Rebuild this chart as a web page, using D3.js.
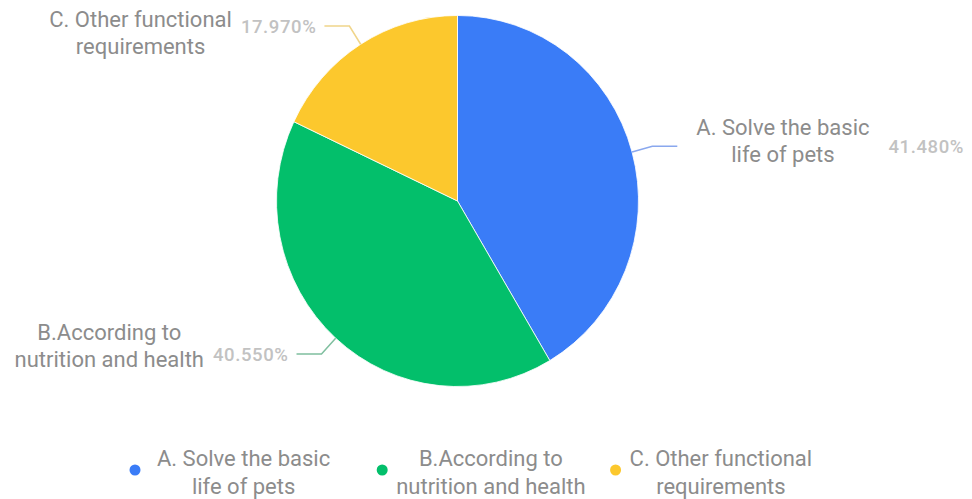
<!DOCTYPE html>
<html>
<head>
<meta charset="utf-8">
<script src="https://cdn.jsdelivr.net/npm/d3@7/dist/d3.min.js"></script>
<style>
  html, body { margin: 0; padding: 0; background: #ffffff; }
  svg { display: block; font-family: Roboto, "Noto Sans", sans-serif; }
</style>
</head>
<body>
<svg id="chart" width="972" height="499"></svg>
<script>
// Survey answers: share of respondents per pet-product requirement
const categories = [
  ["A. Solve the basic", "life of pets"],
  ["B.According to", "nutrition and health"],
  ["C. Other functional", "requirements"]
];
const shares = [41.48, 40.55, 17.97];
const percentLabels = ["41.480%", "40.550%", "17.970%"];
const colors = ["#3a7cf7", "#03bf6b", "#fcc82d"];
const lineColors = ["#8aa8ee", "#7fbf9f", "#f0d58a"];

const W = 972, H = 499;
const cx = 457.5, cy = 201, R = 181, sy = 1.025;

const svg = d3.select("#chart");

const data = categories.map((c, i) => ({ name: c, value: shares[i], pct: percentLabels[i], i }));

const pie = d3.pie().value(d => d.value).sort(null).startAngle(0).endAngle(2 * Math.PI);
const arcs = pie(data);
const arc = d3.arc().innerRadius(0).outerRadius(R);

// Slices
svg.append("g")
  .attr("transform", `translate(${cx},${cy}) scale(1,${sy})`)
  .selectAll("path")
  .data(arcs)
  .join("path")
  .attr("d", arc)
  .attr("fill", d => colors[d.data.i])
  .attr("stroke", "#ffffff")
  .attr("stroke-width", 0.8);

// Point on the (slightly stretched) circle at a given angle and radius
const pt = (a, r) => [cx + r * Math.sin(a), cy - r * Math.cos(a) * sy];

// Leader lines and outside labels
const labelShift = [-5, -8, 7]; // vertical offset of the two-line name block
const labels = svg.append("g");

arcs.forEach(d => {
  const i = d.data.i;
  const mid = (d.startAngle + d.endAngle) / 2;
  const right = Math.sin(mid) > 0;
  const p0 = pt(mid, R);
  const p1 = pt(mid, R + 21);
  const p2 = [p1[0] + (right ? 25 : -25), p1[1]];

  labels.append("polyline")
    .attr("points", [p0, p1, p2].map(p => p.join(",")).join(" "))
    .attr("fill", "none")
    .attr("stroke", lineColors[i])
    .attr("stroke-width", 1.5);

  const g = labels.append("g");
  const nameText = g.append("text")
    .attr("fill", "#8c8c8c")
    .attr("font-size", 22)
    .attr("text-anchor", "middle");
  d.data.name.forEach((line, k) => {
    nameText.append("tspan")
      .attr("x", 0)
      .attr("y", (k === 0 ? -13.5 : 13.5))
      .attr("dy", "0.35em")
      .text(line);
  });
  const nameW = nameText.node().getBBox().width;

  const pctText = g.append("text")
    .attr("fill", "#c2c2c2")
    .attr("font-size", 18.5)
    .attr("font-weight", 500)
    .attr("letter-spacing", 0.6)
    .attr("dy", "0.35em")
    .text(d.data.pct);
  const pctW = pctText.node().getComputedTextLength();

  const y = p2[1];
  if (right) {
    const nameCx = p2[0] + 19 + nameW / 2;
    nameText.attr("transform", `translate(${nameCx},${y + labelShift[i]})`);
    pctText.attr("x", p2[0] + 19 + nameW + 19).attr("y", y);
  } else {
    const pctX = p2[0] - 8 - pctW;
    pctText.attr("x", pctX).attr("y", y);
    const nameCx = pctX - 9 - nameW / 2;
    nameText.attr("transform", `translate(${nameCx},${y + labelShift[i]})`);
  }
});

// Legend
const legend = svg.append("g");
let lx = 135;
const ly = 470;
data.forEach((d, i) => {
  legend.append("circle")
    .attr("cx", lx).attr("cy", ly).attr("r", 5.5)
    .attr("fill", colors[i]);
  const t = legend.append("text")
    .attr("fill", "#8c8c8c")
    .attr("font-size", 22)
    .attr("text-anchor", "middle");
  d.name.forEach((line, k) => {
    t.append("tspan").attr("x", 0).attr("y", k === 0 ? -12 : 16).attr("dy", "0.35em").text(line);
  });
  const w = t.node().getBBox().width;
  const gap = i === 0 ? 22 : 14;
  t.attr("transform", `translate(${lx + gap + w / 2},${ly})`);
  lx = lx + gap + w + (i === 0 ? 52 : 30);
});
</script>
</body>
</html>
